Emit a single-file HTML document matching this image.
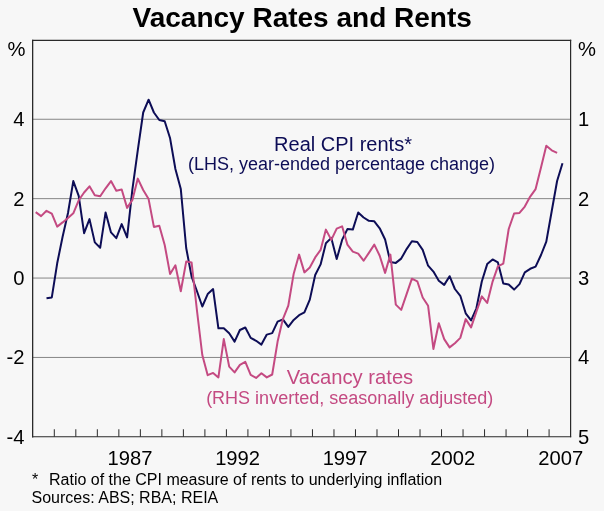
<!DOCTYPE html>
<html><head><meta charset="utf-8"><title>Vacancy Rates and Rents</title>
<style>
html,body{margin:0;padding:0;background:#f7f7f7;}
svg{display:block;position:absolute;left:0;top:0;will-change:transform;font-family:"Liberation Sans",sans-serif;}
</style></head><body>
<svg width="604" height="511" viewBox="0 0 604 511">
<rect x="0" y="0" width="604" height="511" fill="#f7f7f7"/>
<text x="302.2" y="26.7" font-size="28" font-weight="bold" text-anchor="middle" fill="#000">Vacancy Rates and Rents</text>
<line x1="32.8" y1="119.25" x2="570.6" y2="119.25" stroke="#858585" stroke-width="1"/>
<line x1="32.8" y1="198.65" x2="570.6" y2="198.65" stroke="#858585" stroke-width="1"/>
<line x1="32.8" y1="278.05" x2="570.6" y2="278.05" stroke="#858585" stroke-width="1"/>
<line x1="32.8" y1="357.45" x2="570.6" y2="357.45" stroke="#858585" stroke-width="1"/>
<g stroke="#2a2a2a" stroke-width="1.2" stroke-linecap="square"><line x1="32.65" y1="40.4" x2="32.65" y2="436.75" stroke-width="1.3"/><line x1="32.8" y1="40.4" x2="570.6" y2="40.4"/><line x1="570.6" y1="40.4" x2="570.6" y2="436.75"/><line x1="32.8" y1="436.75" x2="570.6" y2="436.75"/></g>
<line x1="54.31" y1="429.25" x2="54.31" y2="436.75" stroke="#2a2a2a" stroke-width="1"/>
<line x1="75.82" y1="429.25" x2="75.82" y2="436.75" stroke="#2a2a2a" stroke-width="1"/>
<line x1="97.34" y1="429.25" x2="97.34" y2="436.75" stroke="#2a2a2a" stroke-width="1"/>
<line x1="118.85" y1="429.25" x2="118.85" y2="436.75" stroke="#2a2a2a" stroke-width="1"/>
<line x1="140.36" y1="429.25" x2="140.36" y2="436.75" stroke="#2a2a2a" stroke-width="1"/>
<line x1="161.87" y1="429.25" x2="161.87" y2="436.75" stroke="#2a2a2a" stroke-width="1"/>
<line x1="183.38" y1="429.25" x2="183.38" y2="436.75" stroke="#2a2a2a" stroke-width="1"/>
<line x1="204.90" y1="429.25" x2="204.90" y2="436.75" stroke="#2a2a2a" stroke-width="1"/>
<line x1="226.41" y1="429.25" x2="226.41" y2="436.75" stroke="#2a2a2a" stroke-width="1"/>
<line x1="247.92" y1="429.25" x2="247.92" y2="436.75" stroke="#2a2a2a" stroke-width="1"/>
<line x1="269.43" y1="429.25" x2="269.43" y2="436.75" stroke="#2a2a2a" stroke-width="1"/>
<line x1="290.94" y1="429.25" x2="290.94" y2="436.75" stroke="#2a2a2a" stroke-width="1"/>
<line x1="312.46" y1="429.25" x2="312.46" y2="436.75" stroke="#2a2a2a" stroke-width="1"/>
<line x1="333.97" y1="429.25" x2="333.97" y2="436.75" stroke="#2a2a2a" stroke-width="1"/>
<line x1="355.48" y1="429.25" x2="355.48" y2="436.75" stroke="#2a2a2a" stroke-width="1"/>
<line x1="376.99" y1="429.25" x2="376.99" y2="436.75" stroke="#2a2a2a" stroke-width="1"/>
<line x1="398.50" y1="429.25" x2="398.50" y2="436.75" stroke="#2a2a2a" stroke-width="1"/>
<line x1="420.02" y1="429.25" x2="420.02" y2="436.75" stroke="#2a2a2a" stroke-width="1"/>
<line x1="441.53" y1="429.25" x2="441.53" y2="436.75" stroke="#2a2a2a" stroke-width="1"/>
<line x1="463.04" y1="429.25" x2="463.04" y2="436.75" stroke="#2a2a2a" stroke-width="1"/>
<line x1="484.55" y1="429.25" x2="484.55" y2="436.75" stroke="#2a2a2a" stroke-width="1"/>
<line x1="506.06" y1="429.25" x2="506.06" y2="436.75" stroke="#2a2a2a" stroke-width="1"/>
<line x1="527.58" y1="429.25" x2="527.58" y2="436.75" stroke="#2a2a2a" stroke-width="1"/>
<line x1="549.09" y1="429.25" x2="549.09" y2="436.75" stroke="#2a2a2a" stroke-width="1"/>
<g font-size="20.2" fill="#000">
<text x="25.5" y="56.3" text-anchor="end">%</text>
<text x="578.0" y="56.3">%</text>
<text x="24.4" y="126.0" text-anchor="end">4</text>
<text x="24.4" y="205.5" text-anchor="end">2</text>
<text x="24.4" y="284.9" text-anchor="end">0</text>
<text x="24.4" y="364.2" text-anchor="end">-2</text>
<text x="24.4" y="443.8" text-anchor="end">-4</text>
<text x="578.0" y="126.0">1</text>
<text x="578.0" y="205.5">2</text>
<text x="578.0" y="284.9">3</text>
<text x="578.0" y="364.2">4</text>
<text x="578.0" y="443.8">5</text>
<text x="130.0" y="465.2" text-anchor="middle">1987</text>
<text x="237.6" y="465.2" text-anchor="middle">1992</text>
<text x="345.1" y="465.2" text-anchor="middle">1997</text>
<text x="452.7" y="465.2" text-anchor="middle">2002</text>
<text x="560.7" y="465.2" text-anchor="middle">2007</text>
</g>
<polyline points="46.5,298.2 51.8,297.4 57.2,263.3 62.6,236.7 68.0,213.0 73.3,181.1 78.7,195.8 84.1,233.2 89.5,219.1 94.8,242.4 100.2,247.7 105.6,212.4 111.0,232.4 116.3,238.2 121.7,224.1 127.1,237.4 132.4,189.4 137.8,150.2 143.2,112.5 148.6,99.7 153.9,112.5 159.3,120.0 164.7,121.3 170.1,138.3 175.4,169.0 180.8,189.1 186.2,248.0 191.6,276.6 196.9,291.0 202.3,306.5 207.7,294.1 213.1,289.1 218.4,328.3 223.8,328.3 229.2,333.3 234.6,341.6 239.9,330.0 245.3,327.5 250.7,337.9 256.1,340.8 261.4,344.6 266.8,334.6 272.2,333.1 277.6,321.6 282.9,319.3 288.3,326.9 293.7,319.9 299.1,315.2 304.4,312.4 309.8,299.6 315.2,275.0 320.6,264.4 325.9,243.3 331.3,237.9 336.7,259.1 342.1,239.9 347.4,229.1 352.8,229.6 358.2,212.5 363.6,217.5 368.9,220.8 374.3,221.3 379.7,228.3 385.1,239.5 390.4,262.1 395.8,262.9 401.2,258.6 406.6,249.1 411.9,241.3 417.3,242.0 422.7,249.9 428.1,265.7 433.4,271.6 438.8,280.7 444.2,284.9 449.6,276.2 454.9,289.0 460.3,295.8 465.7,313.3 471.1,320.4 476.4,308.3 481.8,281.5 487.2,264.1 492.6,259.4 497.9,262.4 503.3,283.6 508.7,284.6 514.1,289.6 519.5,284.1 524.8,272.4 530.2,268.8 535.6,266.6 541.0,255.0 546.3,241.6 551.7,211.3 557.1,181.0 562.5,163.3" fill="none" stroke="#0d0d56" stroke-width="2" stroke-linejoin="round" stroke-linecap="butt"/>
<polyline points="35.7,212.1 41.1,216.1 46.5,210.8 51.8,213.6 57.2,226.6 62.6,222.4 68.0,217.9 73.3,213.3 78.7,200.3 84.1,192.5 89.5,186.3 94.8,195.3 100.2,196.3 105.6,188.3 111.0,181.1 116.3,190.8 121.7,189.5 127.1,207.9 132.4,199.9 137.8,178.6 143.2,190.0 148.6,199.1 153.9,226.9 159.3,225.7 164.7,245.0 170.1,274.1 175.4,265.3 180.8,291.2 186.2,261.6 191.6,262.5 196.9,310.0 202.3,355.0 207.7,375.2 213.1,372.9 218.4,377.4 223.8,339.1 229.2,366.6 234.6,372.4 239.9,364.9 245.3,361.9 250.7,374.9 256.1,377.9 261.4,373.2 266.8,377.4 272.2,374.5 277.6,341.6 282.9,319.1 288.3,305.7 293.7,273.7 299.1,254.6 304.4,272.4 309.8,267.4 315.2,257.4 320.6,249.9 325.9,229.6 331.3,239.9 336.7,228.6 342.1,226.3 347.4,244.6 352.8,251.6 358.2,253.6 363.6,260.7 368.9,252.9 374.3,244.6 379.7,255.7 385.1,272.9 390.4,254.6 395.8,304.6 401.2,309.9 406.6,294.1 411.9,278.7 417.3,281.3 422.7,297.5 428.1,305.8 433.4,349.0 438.8,323.2 444.2,339.1 449.6,347.4 454.9,343.2 460.3,337.9 465.7,319.1 471.1,327.4 476.4,311.6 481.8,296.4 487.2,302.9 492.6,281.6 497.9,266.3 503.3,263.6 508.7,229.0 514.1,213.5 519.5,212.9 524.8,206.6 530.2,196.6 535.6,189.1 541.0,167.5 546.3,145.8 551.7,150.3 557.1,152.8" fill="none" stroke="#c44a82" stroke-width="2" stroke-linejoin="round" stroke-linecap="butt"/>
<text x="343" y="150.5" font-size="20" text-anchor="middle" fill="#0d0d56">Real CPI rents*</text>
<text x="341.5" y="169.8" font-size="18" text-anchor="middle" fill="#0d0d56">(LHS, year-ended percentage change)</text>
<text x="350.0" y="383.7" font-size="20.2" text-anchor="middle" fill="#c44a82">Vacancy rates</text>
<text x="349.7" y="404.0" font-size="18" text-anchor="middle" fill="#c44a82">(RHS inverted, seasonally adjusted)</text>
<g font-size="16" fill="#000"><text x="32" y="485.2">*</text><text x="49" y="485.2">Ratio of the CPI measure of rents to underlying inflation</text><text x="31.5" y="502.5">Sources: ABS; RBA; REIA</text></g>
</svg></body></html>
